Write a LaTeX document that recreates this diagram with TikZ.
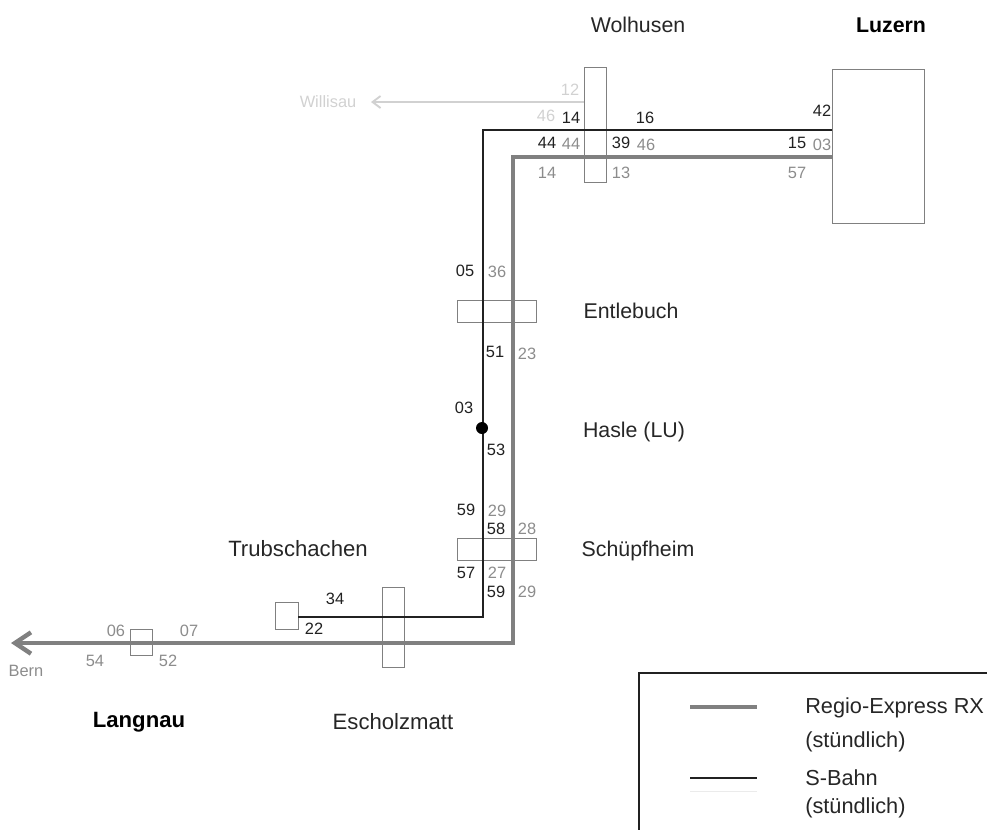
\documentclass[tikz,border=0pt]{standalone}
\usepackage{fontspec}
\usetikzlibrary{arrows.meta}
\setmainfont{Liberation Sans}
\definecolor{rx}{gray}{0.5}
\definecolor{sb}{gray}{0.13}
\definecolor{numg}{gray}{0.55}
\definecolor{numl}{gray}{0.82}
\definecolor{frameg}{gray}{0.5}
\tikzset{
  stn/.style={draw=frameg,line width=0.7pt,inner sep=0pt,fill=none},
  rxline/.style={draw=rx,line width=3.3pt},
  sbline/.style={draw=sb,line width=1.5pt},
  num/.style={inner sep=0pt,font=\fontsize{12.3}{14}\selectfont,text=sb},
  ng/.style={num,text=numg},
  nl/.style={num,text=numl},
  lab/.style={inner sep=0pt,font=\fontsize{16}{18}\selectfont,text=black!85},
  wlab/.style={inner sep=0pt,font=\fontsize{16.6}{18}\selectfont,text=black!85},
  blab/.style={inner sep=0pt,font=\bfseries\fontsize{16}{18}\selectfont,text=black},
  leg/.style={inner sep=0pt,anchor=west,font=\fontsize{16.3}{18}\selectfont,text=black!85}
}
\begin{document}
\begin{tikzpicture}[x=0.75pt,y=-0.75pt]
\useasboundingbox (0,0) rectangle (987,829);
\begin{scope}
\clip (0,0) rectangle (987,829);
% lines
\coordinate (bR) at (832,130);
\coordinate (b1) at (483,130);
\coordinate (b2) at (483,617);
\coordinate (bL) at (298,617);
\coordinate (gR) at (832,157);
\coordinate (g1) at (513,157);
\coordinate (g2) at (513,643);
\coordinate (gL) at (11,643);
\coordinate (wA) at (584,102);
\coordinate (wB) at (371,102);
% stations
\node[stn,minimum width=22*0.75pt,minimum height=115*0.75pt] (wol) at (595,124.5) {};
\node[stn,minimum width=92*0.75pt,minimum height=154*0.75pt] (luz) at (878,146) {};
\node[stn,minimum width=79*0.75pt,minimum height=22*0.75pt] (ent) at (496.5,311) {};
\node[stn,minimum width=79*0.75pt,minimum height=22*0.75pt] (sch) at (496.5,549.5) {};
\node[stn,minimum width=22*0.75pt,minimum height=80*0.75pt] (esc) at (393,627) {};
\node[stn,minimum width=23*0.75pt,minimum height=27*0.75pt] (tru) at (286.5,615.5) {};
\node[stn,minimum width=22*0.75pt,minimum height=26*0.75pt] (lan) at (141,642) {};
\draw[numl,line width=1.4pt,-{Straight Barb[length=6pt,width=9pt]}] (wA) -- (wB);
\draw[sbline] (bR) -- (b1) -- (b2) -- (bL);
\draw[rxline,-{Straight Barb[length=12pt,width=16pt]},line join=miter] (gR) -- (g1) -- (g2) -- (gL);
\fill[black] (482,428) circle[radius=6];
\node[coordinate] (has) at (482,428) {};
% station labels
\node[lab] (tw) at (638,25) {Wolhusen};
\node[blab] (tl) at (891,25) {Luzern};
\node[lab] (te) at (631,311) {Entlebuch};
\node[lab] (th) at (634,432) {Hasle (LU)};
\node[lab] (ts) at (638,551) {Schüpfheim};
\node[wlab] (tt) at (298,549) {Trubschachen};
\node[blab,font=\bfseries\fontsize{16.6}{18}\selectfont] (tn) at (139,722) {Langnau};
\node[wlab] (tz) at (393,722) {Escholzmatt};
\node[inner sep=0pt,text=numl,font=\fontsize{12.3}{14}\selectfont] (twi) at (328,102) {Willisau};
\node[inner sep=0pt,text=numg,font=\fontsize{12.3}{14}\selectfont] (tbe) at (26,671) {Bern};
% times
\node[nl] (n01) at (570,90) {12};
\node[nl] (n02) at (546,116) {46};
\node[num] (n03) at (571,118) {14};
\node[num] (n04) at (645,118) {16};
\node[num] (n05) at (822,111) {42};
\node[num] (n06) at (547,143) {44};
\node[ng] (n07) at (571,144) {44};
\node[num] (n08) at (621,143) {39};
\node[ng] (n09) at (646,145) {46};
\node[num] (n10) at (797,143) {15};
\node[ng] (n11) at (822,145) {03};
\node[ng] (n12) at (547,173) {14};
\node[ng] (n13) at (621,173) {13};
\node[ng] (n14) at (797,173) {57};
\node[num] (n15) at (465,271) {05};
\node[ng] (n16) at (497,272) {36};
\node[num] (n17) at (495,352) {51};
\node[ng] (n18) at (527,354) {23};
\node[num] (n19) at (464,408) {03};
\node[num] (n20) at (496,450) {53};
\node[num] (n21) at (466,510) {59};
\node[ng] (n22) at (497,511) {29};
\node[num] (n23) at (496,529) {58};
\node[ng] (n24) at (527,529) {28};
\node[num] (n25) at (466,573) {57};
\node[ng] (n26) at (497,573) {27};
\node[num] (n27) at (496,592) {59};
\node[ng] (n28) at (527,592) {29};
\node[num] (n29) at (335,599) {34};
\node[num] (n30) at (314,629) {22};
\node[ng] (n31) at (116,631) {06};
\node[ng] (n32) at (189,631) {07};
\node[ng] (n33) at (95,661) {54};
\node[ng] (n34) at (168,661) {52};
% legend
\draw[sb,line width=1.1pt] (639,840) -- (639,673) -- (1000,673);
\coordinate (l1a) at (690,707); \coordinate (l1b) at (757,707);
\coordinate (l2a) at (690,778); \coordinate (l2b) at (757,778);
\coordinate (l3a) at (690,791); \coordinate (l3b) at (757,791);
\draw[rxline] (l1a) -- (l1b);
\draw[sbline] (l2a) -- (l2b);
\draw[black!8,line width=0.7pt] (l3a) -- (l3b);
\node[leg] (e1) at (805,708) {Regio-Express RX};
\node[leg] (e2) at (805,742) {(stündlich)};
\node[leg] (e3) at (805,778) {S-Bahn};
\node[leg] (e4) at (805,808) {(stündlich)};
\end{scope}
\end{tikzpicture}
\end{document}
